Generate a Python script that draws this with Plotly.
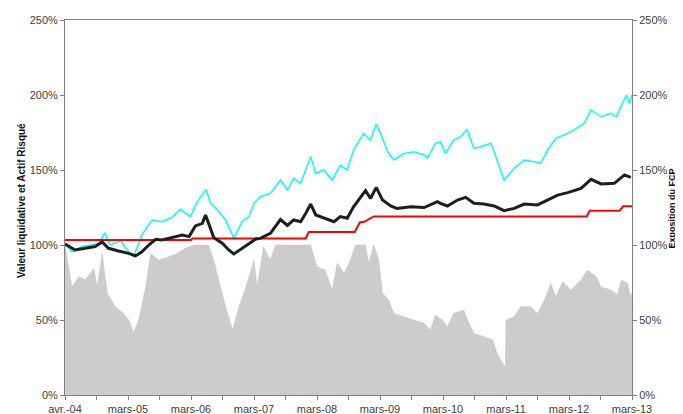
import plotly.graph_objects as go

# x positions: years elapsed since avr.-04
x_labels = ["avr.-04", "mars-05", "mars-06", "mars-07", "mars-08",
            "mars-09", "mars-10", "mars-11", "mars-12", "mars-13"]

nav_t = [0, 0.16, 0.32, 0.48, 0.59, 0.69, 0.85, 1.01, 1.12, 1.22,
         1.33, 1.44, 1.54, 1.70, 1.86, 1.97, 2.07, 2.18, 2.23, 2.28,
         2.36, 2.50, 2.60, 2.68, 2.81, 2.92, 3.03, 3.10, 3.26, 3.42,
         3.53, 3.63, 3.74, 3.82, 3.90, 3.98, 4.11, 4.27, 4.37, 4.48,
         4.58, 4.69, 4.77, 4.85, 4.94, 5.04, 5.17, 5.27, 5.49, 5.70,
         5.91, 5.96, 6.07, 6.23, 6.36, 6.49, 6.65, 6.81, 6.97, 7.13,
         7.29, 7.50, 7.66, 7.82, 7.98, 8.19, 8.35, 8.51, 8.72, 8.88,
         8.98]
nav_v = [100.7, 96.7, 97.8, 99, 102, 97.8, 96, 94.4, 92.7, 95.5,
         100, 103.8, 103.3, 105, 106.7, 105.6, 112.7, 114.4, 120, 114.4,
         105, 101, 96.7, 94, 97.8, 101, 104, 104.4, 107.8, 117,
         113, 116.7, 115.5, 121, 127.3, 120, 117.8, 115.5, 118.9, 117.8,
         125.5, 132.2, 136.2, 131, 138.4, 130, 126, 124.4, 125.5, 125,
         128.9, 127.8, 126, 130, 131.8, 127.8, 127.3, 126, 122.9, 124.4,
         127.3, 126.7, 130, 133.3, 134.9, 137.8, 143.8, 140.7, 141.1, 146.7,
         145.1]

risky_t = [0, 0.11, 0.27, 0.43, 0.54, 0.63, 0.72, 0.88, 1.01, 1.09,
           1.22, 1.38, 1.54, 1.70, 1.83, 1.99, 2.10, 2.24, 2.31, 2.42,
           2.55, 2.68, 2.81, 2.92, 3.00, 3.10, 3.26, 3.42, 3.53, 3.63,
           3.74, 3.90, 3.98, 4.11, 4.24, 4.37, 4.48, 4.58, 4.74, 4.85,
           4.94, 5.04, 5.12, 5.22, 5.38, 5.54, 5.70, 5.75, 5.88, 5.96,
           6.04, 6.17, 6.28, 6.38, 6.49, 6.60, 6.76, 6.84, 6.97, 7.13,
           7.29, 7.45, 7.55, 7.66, 7.79, 7.92, 8.08, 8.24, 8.35, 8.51,
           8.67, 8.75, 8.91, 8.96, 9.0]
risky_v = [100.7, 95.5, 99, 100, 101, 108.2, 100, 102.9, 95.5, 92.2,
           106.7, 116.7, 115.5, 118.4, 123.8, 118.9, 128.9, 137.1, 127.8, 123.3,
           116.7, 104.4, 115.5, 118.9, 127.8, 132.2, 134.4, 143.3, 136.7, 144.4,
           141.1, 158.9, 147.8, 150, 143.3, 153.3, 150, 163.3, 174.4, 170,
           180.7, 171.1, 162.2, 156.7, 161.1, 162.2, 160, 157.8, 167.8, 168.9,
           161.1, 170, 172.2, 177.1, 164.4, 165.5, 167.8, 158.9, 143.3, 151.1,
           156.7, 155.5, 154.4, 163.3, 171.1, 173.3, 176.7, 181.1, 190, 185.5,
           187.8, 185.5, 200, 194.4, 200]

floor_t = [0, 2.0, 2.02, 3.82, 3.87, 4.60, 4.68, 4.75, 4.90, 8.28, 8.33, 8.80, 8.86, 9.0]
floor_v = [103.3, 103.3, 104.3, 104.3, 108.7, 108.7, 115, 115.5, 119, 119, 122.8, 122.8, 125.8, 125.8]

expo_t = [0, 0.11, 0.22, 0.32, 0.46, 0.51, 0.59, 0.67, 0.80, 0.93,
          1.01, 1.09, 1.17, 1.28, 1.36, 1.49, 1.65, 1.78, 1.91, 2.05,
          2.28, 2.36, 2.44, 2.55, 2.66, 2.76, 2.87, 3.00, 3.05, 3.15,
          3.26, 3.34, 3.90, 4.00, 4.13, 4.24, 4.32, 4.43, 4.53, 4.61,
          4.77, 4.82, 4.90, 4.98, 5.04, 5.14, 5.22, 5.38, 5.54, 5.70,
          5.80, 5.88, 5.99, 6.07, 6.17, 6.33, 6.39, 6.49, 6.65, 6.79,
          6.86, 6.99, 7.00, 7.13, 7.23, 7.39, 7.50, 7.61, 7.71, 7.79,
          7.90, 8.03, 8.19, 8.29, 8.43, 8.51, 8.67, 8.77, 8.83, 8.93,
          8.98, 9.0]
expo_v = [100, 72, 79, 76.7, 84.4, 72, 94.4, 67.8, 58.9, 54.4,
          50, 42.2, 50, 72, 94.4, 90, 92.2, 94.4, 97.8, 100,
          100, 90, 76.7, 58.9, 43.3, 58.9, 72, 90, 72, 98.9,
          90, 100, 100, 85.5, 83.3, 70, 87.8, 81.1, 90, 100,
          100, 87.8, 100, 90, 67.8, 63.3, 54.4, 52.2, 50, 47.8,
          43.3, 53.3, 50, 45.5, 54.4, 56.7, 50, 41.1, 38.9, 36.7,
          27.8, 18, 50, 52.2, 58.9, 58.9, 54.4, 63.3, 74.4, 65.5,
          75.5, 70, 76.7, 83.3, 79, 72, 70, 66.7, 76.7, 74.4,
          65.5, 68]

y_ticks = [0, 50, 100, 150, 200, 250]
y_labels = ["0%", "50%", "100%", "150%", "200%", "250%"]

assert len(nav_t) == len(nav_v)
assert len(risky_t) == len(risky_v)
assert len(floor_t) == len(floor_v)
assert len(expo_t) == len(expo_v)

fig = go.Figure()
fig.add_trace(go.Scatter(x=expo_t, y=expo_v, mode="lines", fill="tozeroy",
                         fillcolor="#CDCBCE", line=dict(color="#C6C3C8", width=0.5),
                         name="Exposition du FCP", hoverinfo="skip"))
fig.add_trace(go.Scatter(x=risky_t, y=risky_v, mode="lines",
                         line=dict(color="#00FFFF", width=1.5), name="Actif Risqué"))
fig.add_trace(go.Scatter(x=floor_t, y=floor_v, mode="lines",
                         line=dict(color="#FF0000", width=2), name="Plancher"))
fig.add_trace(go.Scatter(x=nav_t, y=nav_v, mode="lines",
                         line=dict(color="#1E1E1E", width=3), name="Valeur liquidative"))
# invisible trace so the secondary axis renders
fig.add_trace(go.Scatter(x=[0], y=[0], yaxis="y2", mode="markers",
                         marker=dict(opacity=0), showlegend=False, hoverinfo="skip"))

tickvals = [i * 0.5 for i in range(19)]
ticktext = [x_labels[i // 2] if i % 2 == 0 else "" for i in range(19)]

axis_font = dict(family="Liberation Sans, Arial, sans-serif", size=11, color="#404040")

# page body has an 8px margin, so the figure is sized to fit the 683x414 window
fig.update_layout(
    width=675, height=406,
    margin=dict(l=57, r=51, t=12, b=19),
    paper_bgcolor="white", plot_bgcolor="white",
    showlegend=False,
    xaxis=dict(range=[0, 9], tickvals=tickvals, ticktext=ticktext, automargin=False,
               showgrid=False, zeroline=False, showline=True, linecolor="#808080",
               linewidth=1, mirror=True, ticks="outside", ticklen=4,
               tickcolor="#808080", tickfont=axis_font),
    yaxis=dict(range=[0, 250], tickvals=y_ticks, ticktext=y_labels, automargin=False,
               showgrid=False, zeroline=False, showline=True, linecolor="#808080",
               linewidth=1, ticks="outside", ticklen=4, tickcolor="#808080",
               tickfont=axis_font),
    yaxis2=dict(range=[0, 250], tickvals=y_ticks, ticktext=y_labels, overlaying="y",
                side="right", showgrid=False, zeroline=False, showline=True,
                automargin=False,
                linecolor="#808080", linewidth=1, ticks="outside", ticklen=4,
                tickcolor="#808080", tickfont=axis_font),
    annotations=[
        dict(text="<b>Valeur liquidative et Actif Risqué</b>", xref="paper", yref="paper",
             x=0, y=0.5, xshift=-51, yshift=7, textangle=-90, showarrow=False,
             font=dict(family="Liberation Sans, Arial, sans-serif", size=10, color="#111")),
        dict(text="<b>Exposition du FCP</b>", xref="paper", yref="paper",
             x=1, y=0.5, xshift=46, yshift=-1, textangle=-90, showarrow=False,
             font=dict(family="Liberation Sans, Arial, sans-serif", size=9, color="#111")),
    ],
)

fig.write_html("out.html")
